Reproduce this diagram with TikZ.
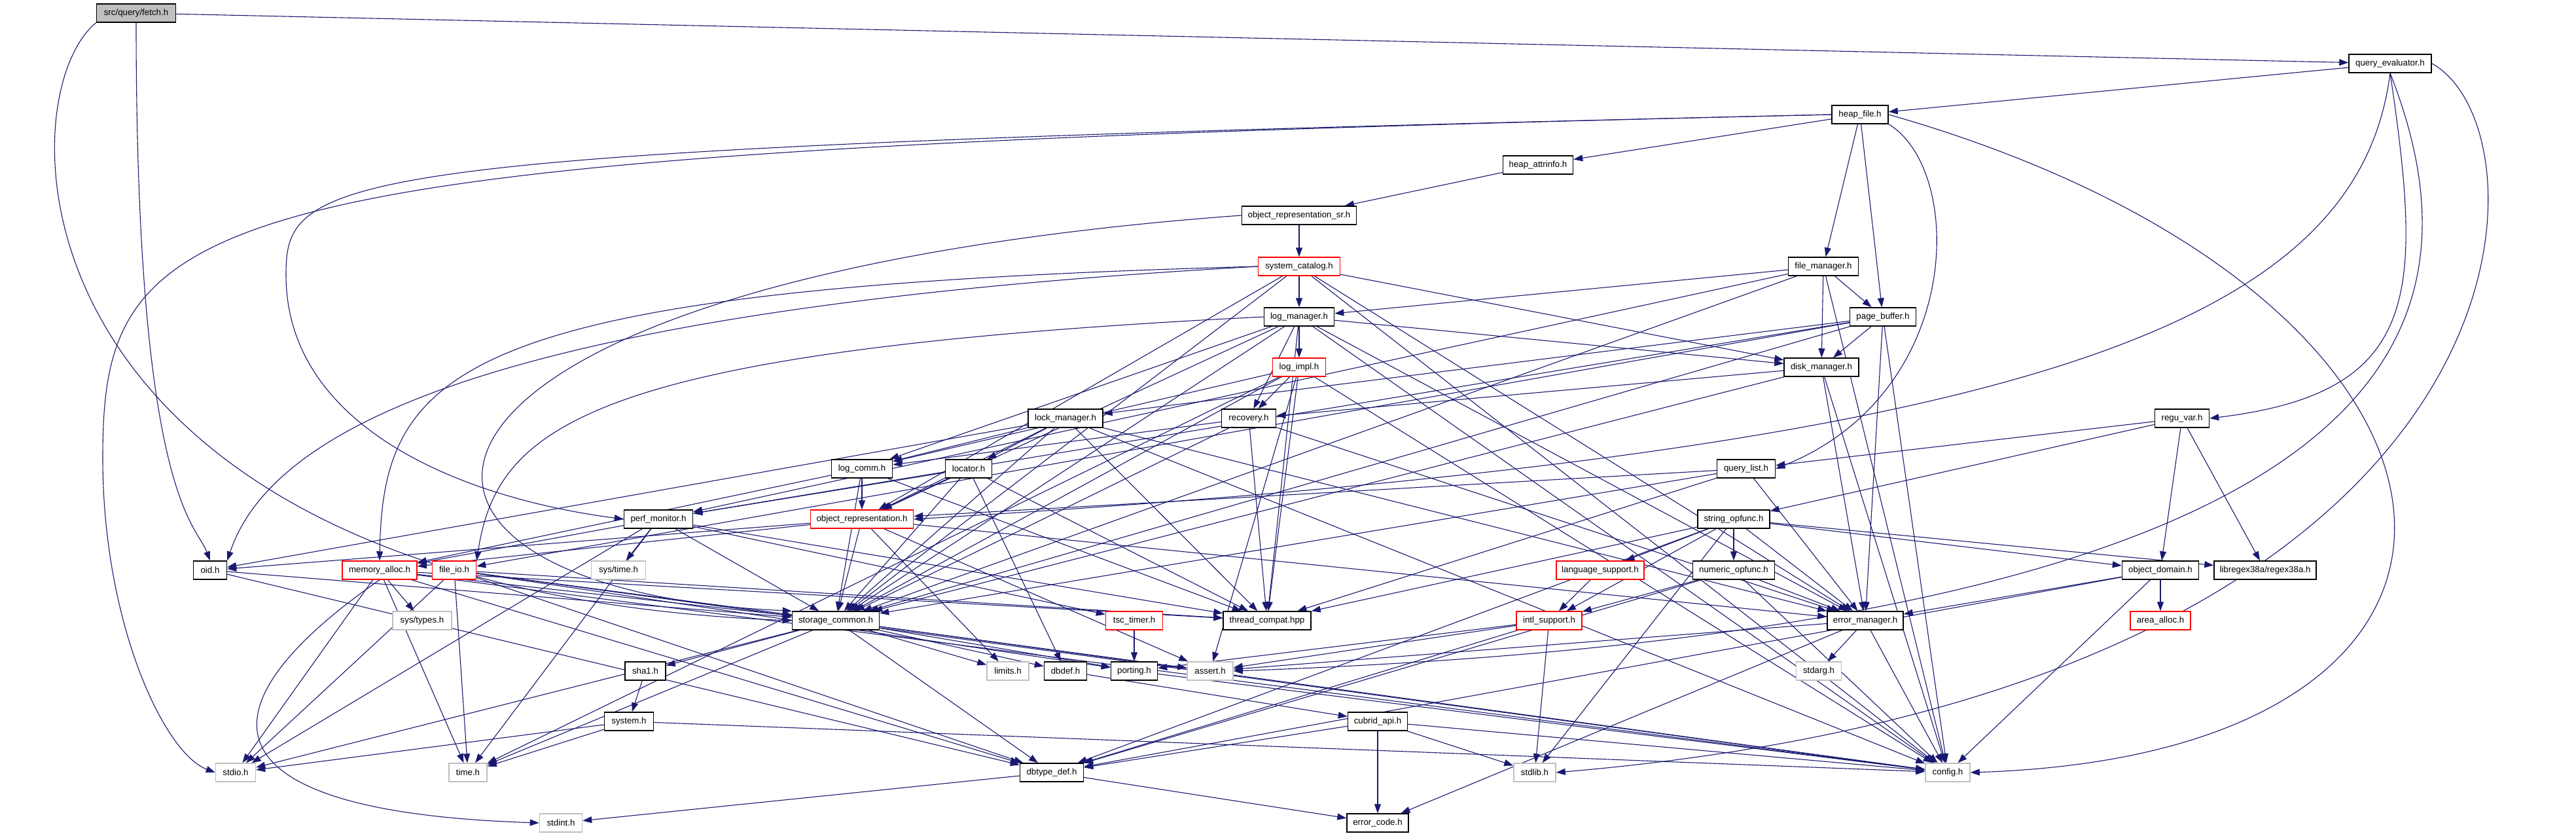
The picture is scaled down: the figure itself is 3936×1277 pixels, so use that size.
\documentclass[tikz,border=0pt]{standalone}
\usepackage{fontspec}
\setmainfont{Liberation Sans}
\usepackage{xcolor}
\usetikzlibrary{arrows.meta,backgrounds}
\definecolor{Xedge}{RGB}{25,25,112}
\definecolor{Xgrey}{RGB}{191,191,191}
\definecolor{Xred}{RGB}{255,0,0}
\tikzset{
  hdr/.style={draw=black, fill=white, line width=1.5pt, minimum height=28pt, inner sep=0pt, font=\fontsize{13.3}{16}\selectfont},
  redhdr/.style={hdr, draw=Xred},
  syshdr/.style={hdr, draw=Xgrey},
  roothdr/.style={hdr, fill=Xgrey},
  dep/.style={-{Triangle[length=14pt,width=10pt]}, line width=1.1pt, draw=Xedge}
}
\begin{document}
\begin{tikzpicture}[x=1pt,y=-1pt]
  \useasboundingbox (0,0) rectangle (3936,1277);

  \node[roothdr, minimum width=121pt] (fetch) at (208,20) {src/query/fetch.h};
  \node[hdr, minimum width=126pt] (qeval) at (3652,97) {query\_evaluator.h};
  \node[hdr, minimum width=86pt] (heapfile) at (2842,175) {heap\_file.h};
  \node[hdr, minimum width=107pt] (heapattr) at (2350,252) {heap\_attrinfo.h};
  \node[hdr, minimum width=175pt] (objrepsr) at (1985,329) {object\_representation\_sr.h};
  \node[redhdr, minimum width=125pt] (syscat) at (1985,407) {system\_catalog.h};
  \node[hdr, minimum width=107pt] (filemgr) at (2786,407) {file\_manager.h};
  \node[hdr, minimum width=107pt] (logmgr) at (1985,484) {log\_manager.h};
  \node[hdr, minimum width=101pt] (pgbuf) at (2877,484) {page\_buffer.h};
  \node[redhdr, minimum width=81pt] (logimpl) at (1985,561) {log\_impl.h};
  \node[hdr, minimum width=114pt] (diskmgr) at (2783,561) {disk\_manager.h};
  \node[hdr, minimum width=114pt] (lockmgr) at (1628,639) {lock\_manager.h};
  \node[hdr, minimum width=83pt] (recovery) at (1908,639) {recovery.h};
  \node[hdr, minimum width=83pt] (reguvar) at (3334,639) {regu\_var.h};
  \node[hdr, minimum width=93pt] (logcomm) at (1317,716) {log\_comm.h};
  \node[hdr, minimum width=71pt] (locator) at (1480,716) {locator.h};
  \node[hdr, minimum width=89pt] (qlist) at (2668,716) {query\_list.h};
  \node[redhdr, minimum width=157pt] (objrep) at (1317,793) {object\_representation.h};
  \node[hdr, minimum width=105pt] (perfmon) at (1006,793) {perf\_monitor.h};
  \node[hdr, minimum width=110pt] (stropf) at (2649,793) {string\_opfunc.h};
  \node[hdr, minimum width=51pt] (oid) at (321,871) {oid.h};
  \node[redhdr, minimum width=114pt] (memalloc) at (580,871) {memory\_alloc.h};
  \node[redhdr, minimum width=67pt] (fileio) at (694,871) {file\_io.h};
  \node[syshdr, minimum width=83pt] (systime) at (945,871) {sys/time.h};
  \node[redhdr, minimum width=134pt] (langsup) at (2445,871) {language\_support.h};
  \node[hdr, minimum width=125pt] (numopf) at (2649,871) {numeric\_opfunc.h};
  \node[hdr, minimum width=117pt] (objdom) at (3301,871) {object\_domain.h};
  \node[hdr, minimum width=156pt] (regex) at (3461,871) {libregex38a/regex38a.h};
  \node[syshdr, minimum width=90pt] (systypes) at (645,948) {sys/types.h};
  \node[hdr, minimum width=133pt] (stcommon) at (1277,948) {storage\_common.h};
  \node[redhdr, minimum width=87pt] (tsc) at (1733,948) {tsc\_timer.h};
  \node[hdr, minimum width=134pt] (thrcompat) at (1936,948) {thread\_compat.hpp};
  \node[redhdr, minimum width=100pt] (intlsup) at (2367,948) {intl\_support.h};
  \node[hdr, minimum width=116pt] (errmgr) at (2850,948) {error\_manager.h};
  \node[redhdr, minimum width=92pt] (areaalloc) at (3301,948) {area\_alloc.h};
  \node[hdr, minimum width=62pt] (sha1) at (986,1025) {sha1.h};
  \node[syshdr, minimum width=64pt] (limits) at (1540,1025) {limits.h};
  \node[hdr, minimum width=65pt] (dbdef) at (1628,1025) {dbdef.h};
  \node[hdr, minimum width=71pt] (porting) at (1733,1025) {porting.h};
  \node[syshdr, minimum width=70pt] (assert) at (1849,1025) {assert.h};
  \node[syshdr, minimum width=69pt] (stdarg) at (2779,1025) {stdarg.h};
  \node[hdr, minimum width=75pt] (system) at (961,1102) {system.h};
  \node[hdr, minimum width=91pt] (cubridapi) at (2105,1102) {cubrid\_api.h};
  \node[syshdr, minimum width=61pt] (stdio) at (360,1180) {stdio.h};
  \node[syshdr, minimum width=58pt] (time) at (715,1180) {time.h};
  \node[hdr, minimum width=97pt] (dbtypedef) at (1607,1180) {dbtype\_def.h};
  \node[syshdr, minimum width=64pt] (stdlib) at (2345,1180) {stdlib.h};
  \node[syshdr, minimum width=68pt] (config) at (2976,1180) {config.h};
  \node[syshdr, minimum width=65pt] (stdint) at (857,1257) {stdint.h};
  \node[hdr, minimum width=94pt] (errcode) at (2105,1257) {error\_code.h};

  \begin{scope}[on background layer]
    \draw[dep] (fetch) -- (qeval);
    \draw[dep] (fetch.south west) .. controls (5,150) and (5,900) .. (stcommon.west);
    \draw[dep] (fetch.south) .. controls (208,760) and (300,800) .. (oid.north);

    \draw[dep] (qeval) -- (heapfile);
    \draw[dep] (qeval.south) .. controls (3702,450) and (3700,600) .. (reguvar.east);
    \draw[dep] (qeval.south) .. controls (3602,500) and (3100,690) .. (objrep.east);
    \draw[dep] (qeval.south) .. controls (3804,500) and (3700,960) .. (assert.east);
    \draw[dep] (qeval.east) .. controls (3905,200) and (3905,1050) .. (stdlib.east);

    \foreach \t in {heapattr,filemgr,pgbuf} \draw[dep] (heapfile) -- (\t);
    \draw[dep] (heapfile.west) .. controls (300,232) and (157,300) .. (157,700)
      .. controls (157,950) and (250,1150) .. (stdio.west);
    \draw[dep] (heapfile.west) .. controls (500,228) and (437,260) .. (437,420)
      .. controls (437,650) and (700,760) .. (perfmon.west);
    \draw[dep] (heapfile.south east) .. controls (3002,260) and (3002,600) .. (qlist.east);
    \draw[dep] (heapfile.east) .. controls (3850,450) and (3930,1150) .. (config.east);

    \draw[dep] (heapattr) -- (objrepsr);
    \draw[dep] (objrepsr) -- (syscat);
    \draw[dep] (objrepsr.west) .. controls (520,430) and (480,900) .. (stcommon.north west);

    \foreach \t in {logmgr,diskmgr,objrep,stcommon,errmgr,config} \draw[dep] (syscat) -- (\t);
    \draw[dep] (syscat.west) .. controls (700,440) and (585,560) .. (memalloc.north);
    \draw[dep] (syscat.west) .. controls (800,470) and (420,640) .. (oid.north east);

    \foreach \t in {logmgr,pgbuf,diskmgr,stcommon,perfmon,config} \draw[dep] (filemgr) -- (\t);
    \foreach \t in {logimpl,recovery,diskmgr,logcomm,stcommon,thrcompat,errmgr,config,objrep}
      \draw[dep] (logmgr) -- (\t);
    \draw[dep] (logmgr.west) .. controls (900,535) and (760,650) .. (fileio.north east);
    \foreach \t in {diskmgr,lockmgr,perfmon,stcommon,fileio,errmgr,config} \draw[dep] (pgbuf) -- (\t);
    \foreach \t in {recovery,logcomm,stcommon,thrcompat,assert,time,config} \draw[dep] (logimpl) -- (\t);
    \foreach \t in {recovery,stcommon,errmgr,config} \draw[dep] (diskmgr) -- (\t);
    \foreach \t in {logcomm,locator,stcommon,thrcompat,errmgr,config,oid,objrep} \draw[dep] (lockmgr) -- (\t);
    \foreach \t in {logcomm,thrcompat,errmgr,stcommon} \draw[dep] (recovery) -- (\t);
    \foreach \t in {qlist,stropf,objdom,regex} \draw[dep] (reguvar) -- (\t);
    \foreach \t in {objrep,stcommon,thrcompat,memalloc} \draw[dep] (logcomm) -- (\t);
    \foreach \t in {objrep,stcommon,thrcompat,perfmon,dbdef} \draw[dep] (locator) -- (\t);
    \foreach \t in {objrep,stcommon,thrcompat,errmgr} \draw[dep] (qlist) -- (\t);
    \foreach \t in {langsup,intlsup,numopf,objdom,regex,errmgr,thrcompat,dbtypedef,stdlib}
      \draw[dep] (stropf) -- (\t);
    \foreach \t in {oid,memalloc,stcommon,limits,assert,errmgr} \draw[dep] (objrep) -- (\t);
    \foreach \t in {systime,tsc,stcommon,thrcompat,memalloc,stdio,time} \draw[dep] (perfmon) -- (\t);
    \foreach \t in {stcommon,dbtypedef} \draw[dep] (oid) -- (\t);
    \foreach \t in {systypes,stdio,time,stcommon,dbtypedef,config,thrcompat} \draw[dep] (memalloc) -- (\t);
    \draw[dep] (memalloc.south) .. controls (300,1080) and (300,1240) .. (stdint.west);
    \foreach \t in {stcommon,stdio,time,porting,thrcompat,dbtypedef,config} \draw[dep] (fileio) -- (\t);
    \draw[dep] (langsup) -- (intlsup);
    \foreach \t in {intlsup,errmgr,config,dbtypedef} \draw[dep] (numopf) -- (\t);
    \foreach \t in {areaalloc,errmgr,config,dbtypedef} \draw[dep] (objdom) -- (\t);
    \foreach \t in {stdlib,porting,assert,dbtypedef} \draw[dep] (intlsup) -- (\t);
    \foreach \t in {assert,stdarg,errcode,config} \draw[dep] (errmgr) -- (\t);
    \foreach \t in {sha1,stdio,time,dbtypedef,limits,dbdef,porting,assert,config} \draw[dep] (stcommon) -- (\t);
    \draw[dep] (tsc) -- (porting);
    \draw[dep] (sha1) -- (system);
    \foreach \t in {stdio,time,config} \draw[dep] (system) -- (\t);
    \draw[dep] (dbdef) -- (cubridapi);
    \draw[dep] (porting) -- (config);
    \foreach \t in {errcode,dbtypedef,stdlib,config} \draw[dep] (cubridapi) -- (\t);
    \foreach \t in {stdint,errcode} \draw[dep] (dbtypedef) -- (\t);
  \end{scope}
\end{tikzpicture}
\end{document}
